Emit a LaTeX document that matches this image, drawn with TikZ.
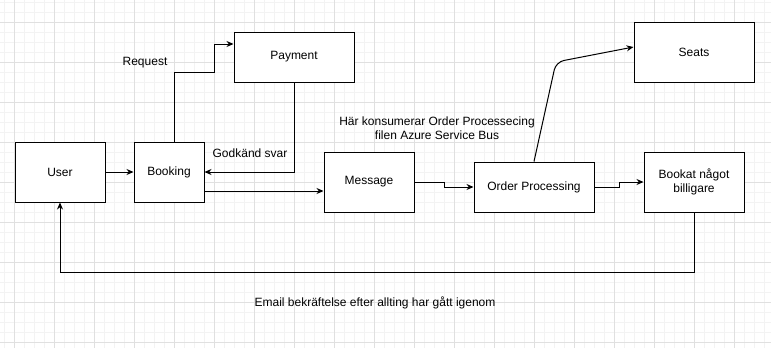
\documentclass[tikz,border=0pt]{standalone}
\usepackage{fontspec}
\setmainfont{Liberation Sans}
\usetikzlibrary{arrows.meta}

\definecolor{gridmajor}{HTML}{E0E0E0}
\definecolor{gridminor}{HTML}{F3F3F3}

\begin{document}
\begin{tikzpicture}[
    x=1pt, y=-1pt,
    >={Stealth[length=7pt,width=6pt]},
    box/.style={
        draw=black,
        line width=1pt,
        fill=white,
        align=center,
        inner sep=0pt,
        font=\fontsize{12}{14}\selectfont
    },
    arr/.style={->, line width=1pt, draw=black},
    lbl/.style={align=center, font=\fontsize{12}{14}\selectfont}
]
    \useasboundingbox (0,0) rectangle (771,348);

    % grid
    \foreach \x in {4,14,...,764}
        \draw[gridminor, line width=1pt] (\x,0) -- (\x,348);
    \foreach \y in {2,12,...,342}
        \draw[gridminor, line width=1pt] (0,\y) -- (771,\y);
    \foreach \x in {14,54,...,734}
        \draw[gridmajor, line width=1pt] (\x,0) -- (\x,348);
    \foreach \y in {22,62,...,342}
        \draw[gridmajor, line width=1pt] (0,\y) -- (771,\y);

    \node[box, minimum width=90pt, minimum height=60pt] (user) at (60,172) {User};
    \node[box, minimum width=70pt, minimum height=60pt] (booking) at (169,172) {Booking};
    \node[box, minimum width=120pt, minimum height=50pt] (payment) at (294,57) {Payment};
    \node[box, minimum width=90pt, minimum height=60pt] (message) at (369,182) {Message};
    \node[box, minimum width=120pt, minimum height=50pt] (order) at (534,187) {Order Processing};
    \node[box, minimum width=120pt, minimum height=60pt] (seats) at (694,52) {Seats};
    \node[box, minimum width=100pt, minimum height=60pt] (cheaper) at (694,182) {Bookat något\\billigare};

    \node[lbl] (request) at (145,63) {Request};
    \node[lbl] (svar) at (250,153) {Godkänd svar};
    \node[lbl] (bus) at (437,128) {Här konsumerar Order Processecing\\filen Azure Service Bus};
    \node[lbl] (email) at (375,303) {Email bekräftelse efter allting har gått igenom};

    \draw[arr] (user) -- (booking);
    \draw[arr] ([xshift=5pt]booking.north) |- (214,72) |- ([yshift=13pt]payment.west);
    \draw[arr] (payment.south) |- (booking.east);
    \draw[arr] ([yshift=-19pt]booking.east) -- ([yshift=-9pt]message.west);
    \draw[arr] (message.east) -| (444,187) -- (order.west);
    \draw[arr, rounded corners=8pt] (order.north) -- (556,62) -- ([yshift=5pt]seats.west);
    \draw[arr] (order.east) -| (619,182) -- (cheaper.west);
    \draw[arr] (cheaper.south) -- (694,272) -| (user.south);
\end{tikzpicture}
\end{document}
